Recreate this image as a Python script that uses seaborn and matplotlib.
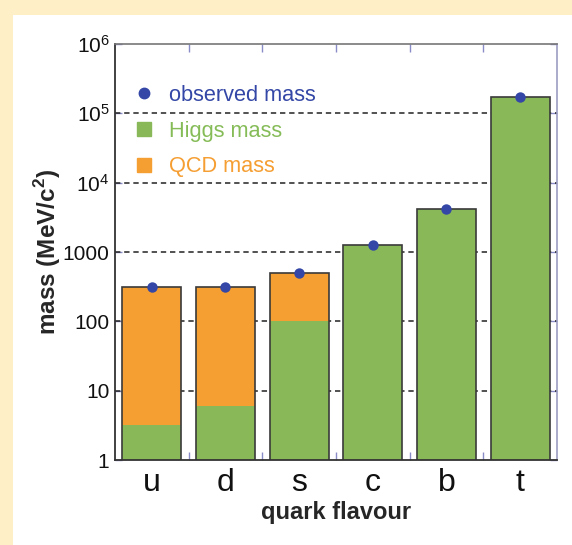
import matplotlib
matplotlib.use("Agg")
import matplotlib.pyplot as plt
from matplotlib.lines import Line2D
from matplotlib.patches import Rectangle
from matplotlib.ticker import FixedLocator, NullFormatter
import seaborn as sns
import pandas as pd

# ---- data ----
flavours = ["u", "d", "s", "c", "b", "t"]
higgs_mass = [3.2, 6.0, 100, 1280, 4200, 173000]
qcd_mass = [313, 310, 390, 0, 0, 0]
observed_mass = [316, 316, 490, 1280, 4200, 173000]
ytick_values = [1, 10, 100, 1000, 1e4, 1e5, 1e6]
ytick_labels = ["1", "10", "100", "1000",
                r"$\mathdefault{10^{4}}$", r"$\mathdefault{10^{5}}$", r"$\mathdefault{10^{6}}$"]
legend_labels = ["observed mass", "Higgs mass", "QCD mass"]

GREEN = "#88B858"
ORANGE = "#F59E32"
BLUE = "#3447A6"
EDGE = "#3a3a3a"
TICKC = "#8a8cc8"

sns.set_theme(style="white")
plt.rcParams["font.family"] = ["Liberation Sans", "DejaVu Sans"]
plt.rcParams["mathtext.fontset"] = "custom"
plt.rcParams["mathtext.rm"] = "Liberation Sans"
plt.rcParams["mathtext.bf"] = "Liberation Sans:bold"

df = pd.DataFrame({"flavour": flavours, "higgs": higgs_mass,
                   "qcd": qcd_mass, "observed": observed_mass})
df["total"] = df["higgs"] + df["qcd"]

fig = plt.figure(figsize=(5.72, 5.45), dpi=100, facecolor="#FEEFC7")
fig.patches.append(Rectangle((13 / 572, 0), 1 - 13 / 572, 1 - 15 / 545,
                             transform=fig.transFigure, facecolor="white",
                             edgecolor="none", zorder=-5))
ax = fig.add_axes([115 / 572, 85 / 545, 442 / 572, 416 / 545])
ax.set_zorder(1)
ax.set_facecolor("white")
ax.set_yscale("log")

# stacked bars: QCD part on top of Higgs part
sns.barplot(data=df, x="flavour", y="total", color=ORANGE, saturation=1,
            width=0.8, linewidth=0, ax=ax, zorder=2)
sns.barplot(data=df, x="flavour", y="higgs", color=GREEN, saturation=1,
            width=0.8, linewidth=0, ax=ax, zorder=3)
sns.barplot(data=df, x="flavour", y="total", fill=False, edgecolor=EDGE,
            width=0.8, linewidth=1.2, ax=ax, zorder=4)
# observed masses
sns.stripplot(data=df, x="flavour", y="observed", jitter=False, color=BLUE,
              size=7.5, linewidth=0, ax=ax, zorder=5)

ax.set_xlim(-0.5, 5.5)
ax.set_ylim(1, 1e6)

# grid
ax.set_yticks(ytick_values)
ax.set_yticklabels(ytick_labels)
ax.yaxis.set_minor_locator(FixedLocator([]))
ax.yaxis.set_minor_formatter(NullFormatter())
for v in ytick_values[1:-1]:
    ax.axhline(v, color="#222222", linestyle=(0, (3.5, 2.5)), linewidth=1.1, zorder=1)

ax.tick_params(axis="y", which="major", direction="in", length=5, width=1,
               color=TICKC, left=True, right=True, labelsize=15, pad=4,
               labelcolor="#111111")
ax.set_xticks(range(len(flavours)))
ax.set_xticklabels(flavours)
ax.xaxis.set_minor_locator(FixedLocator([i + 0.5 for i in range(len(flavours) - 1)]))
ax.tick_params(axis="x", which="major", length=0, labelsize=23, pad=6,
               labelcolor="#111111")
ax.tick_params(axis="x", which="minor", direction="in", length=6, width=1,
               color=TICKC, top=True, bottom=True)

for side in ["left", "bottom"]:
    ax.spines[side].set_color("#333333")
    ax.spines[side].set_linewidth(1.3)
ax.spines["top"].set_color("#777777")
ax.spines["top"].set_linewidth(1.2)
ax.spines["right"].set_color("#9c9cc4")
ax.spines["right"].set_linewidth(1.2)
for s in ax.spines.values():
    s.set_zorder(6)

ax.set_xlabel("quark flavour", fontsize=17, fontweight="bold", labelpad=2)
ax.set_ylabel(r"mass (MeV/c$^{\mathbf{2}}$)", fontsize=17.5, fontweight="bold",
              labelpad=0)

handles = [
    Line2D([], [], linestyle="none", marker="o", markersize=7.5, color=BLUE),
    Line2D([], [], linestyle="none", marker="s", markersize=10, color=GREEN),
    Line2D([], [], linestyle="none", marker="s", markersize=10, color=ORANGE),
]
leg = ax.legend(handles, legend_labels, loc="upper left",
                bbox_to_anchor=(0.04, 0.902), frameon=False, fontsize=15.7,
                handlelength=1.0, handletextpad=0.66, labelspacing=0.68,
                borderaxespad=0, borderpad=0)
for t, c in zip(leg.get_texts(), [BLUE, "#86BC58", "#F59E32"]):
    t.set_color(c)

fig.savefig("out.png", dpi=100, facecolor=fig.get_facecolor())
